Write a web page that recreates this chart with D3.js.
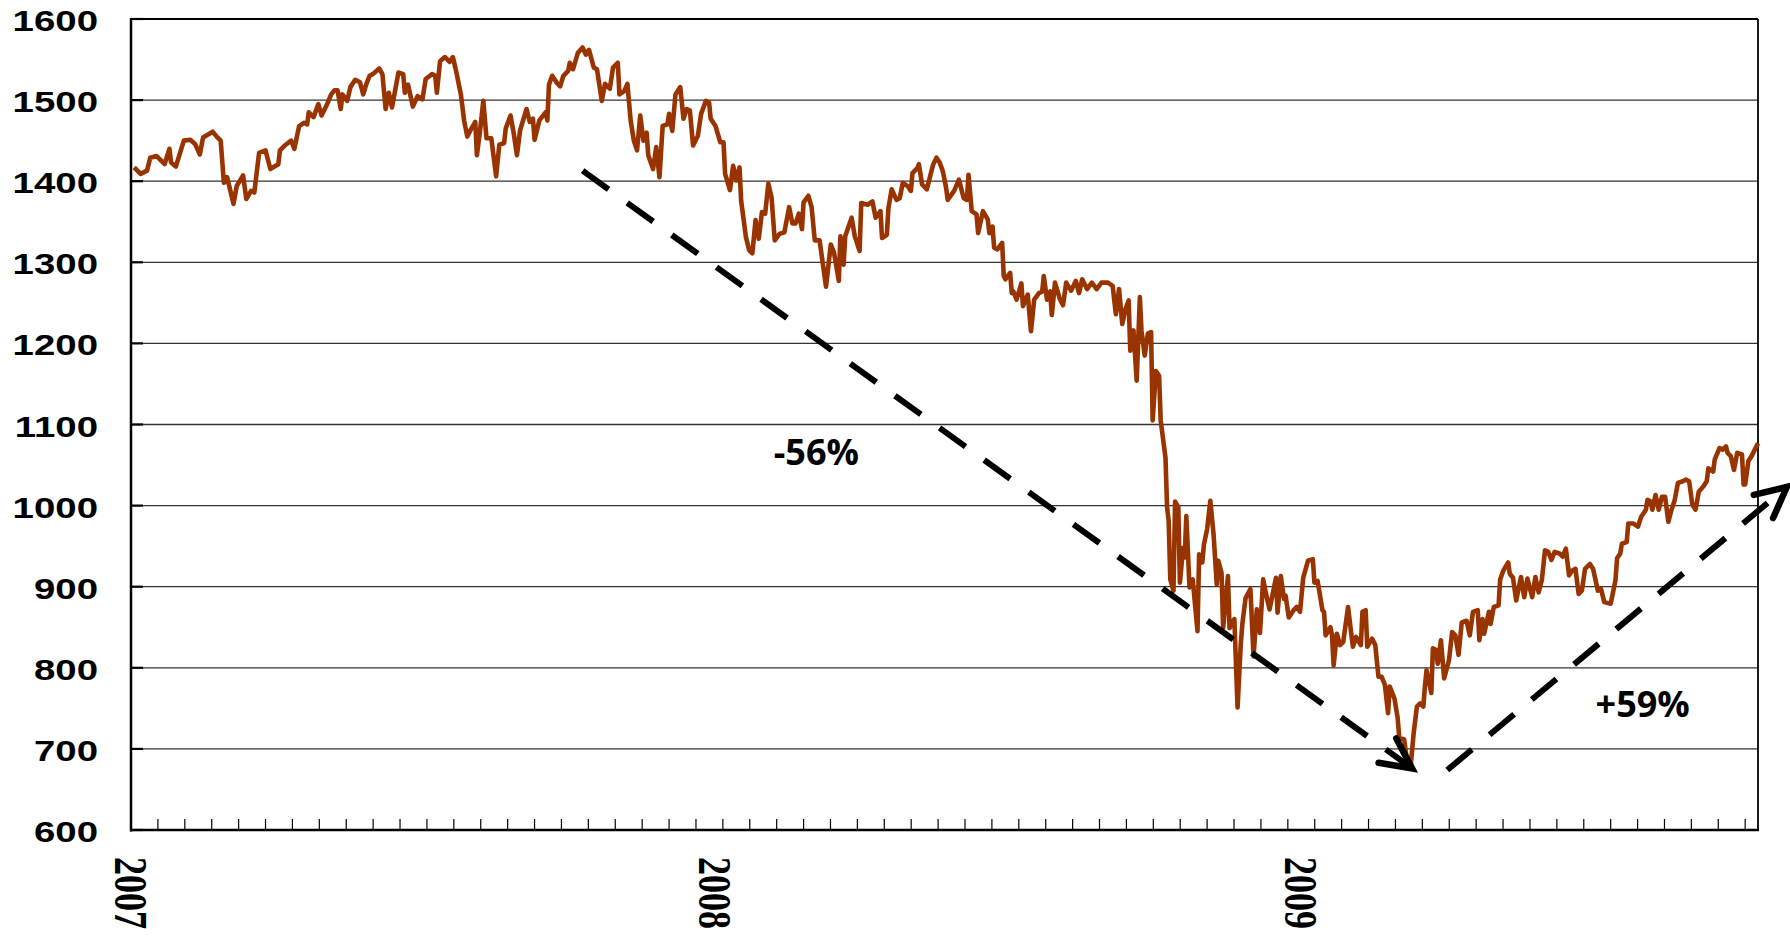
<!DOCTYPE html>
<html lang="en">
<head>
<meta charset="utf-8">
<title>S&amp;P 500, 2007 - 2009</title>
<script src="https://cdn.jsdelivr.net/npm/d3@7"></script>
<style>
  body { margin: 0; background: #fff; }
  svg { display: block; }
</style>
</head>
<body>
<script>
// closing level, as [days since 1 Jan 2007, level]
var s2007 = [
  [2,1417],[6,1409],[10,1413],[12,1429],[16,1431],[19,1425],[21,1421],[24,1440],[25,1423],[28,1418],
  [33,1450],[37,1451],[40,1446],[43,1433],[45,1454],[51,1461],[54,1454],[56,1450],[58,1398],[60,1405],
  [64,1372],[66,1394],[70,1407],[72,1378],[75,1388],[77,1386],[80,1435],[84,1438],[87,1415],[92,1421],
  [93,1438],[96,1444],[100,1450],[102,1440],[105,1468],[108,1472],[110,1470],[111,1485],[114,1479],[117,1495],
  [119,1481],[122,1493],[125,1507],[127,1512],[129,1512],[131,1489],[132,1507],[135,1499],[137,1516],[140,1525],
  [143,1522],[145,1507],[147,1520],[149,1530],[151,1532],[155,1539],[157,1532],[159,1489],[161,1509],[163,1491],
  [167,1534],[170,1532],[171,1509],[173,1519],[176,1492],[179,1505],[182,1501],[184,1526],[188,1532],[190,1530],
  [191,1509],[193,1548],[196,1553],[199,1547],[201,1553],[203,1536],[206,1507],[208,1475],[210,1455],[212,1463],
  [215,1473],[216,1432],[218,1463],[220,1499],[222,1453],[225,1453],[228,1406],[230,1445],[233,1447],[234,1465],
  [237,1481],[239,1459],[241,1432],[243,1463],[247,1489],[249,1473],[251,1477],[252,1451],[255,1475],[259,1485],
  [260,1475],[261,1519],[263,1530],[266,1521],[268,1517],[270,1530],[273,1536],[274,1546],[276,1538],[279,1558],
  [282,1565],[284,1556],[286,1562],[289,1540],[291,1538],[294,1499],[296,1520],[299,1514],[301,1540],[304,1546],
  [305,1507],[308,1511],[310,1520],[312,1475],[314,1450],[316,1438],[318,1481],[320,1450],[322,1460],[323,1432],
  [326,1415],[328,1442],[330,1405],[332,1468],[335,1470],[336,1483],[338,1462],[340,1507],[343,1516],[345,1477],
  [347,1489],[349,1487],[351,1444],[354,1456],[356,1483],[359,1499],[361,1497],[362,1477]
];
var s2008 = [
  [365,1468],[368,1448],[370,1448],[371,1409],[374,1389],[376,1419],[378,1401],[380,1417],[381,1376],[384,1331],
  [386,1315],[388,1311],[390,1352],[392,1329],[394,1362],[396,1360],[398,1397],[400,1380],[402,1327],[405,1335],
  [408,1337],[411,1368],[413,1348],[415,1348],[417,1360],[419,1341],[420,1374],[423,1382],[425,1368],[427,1327],
  [430,1327],[434,1270],[437,1322],[439,1312],[442,1277],[443,1332],[445,1297],[446,1332],[450,1355],[452,1332],
  [455,1314],[456,1373],[460,1371],[463,1375],[465,1355],[468,1363],[469,1330],[472,1334],[473,1367],[475,1390],
  [478,1377],[480,1379],[482,1398],[485,1394],[487,1388],[488,1410],[491,1416],[492,1421],[494,1396],[497,1390],
  [499,1406],[501,1421],[503,1429],[505,1423],[507,1412],[509,1392],[510,1377],[514,1388],[517,1402],[520,1379],
  [522,1377],[523,1408],[525,1363],[528,1359],[529,1336],[532,1363],[535,1353],[536,1336],[538,1344],[539,1318],
  [541,1316],[544,1324],[545,1283],[546,1279],[549,1287],[550,1262],[551,1264],[553,1254],[556,1274],[557,1246],
  [560,1260],[562,1215],[564,1254],[567,1262],[569,1264],[570,1283],[572,1254],[574,1264],[575,1235],[577,1275],
  [580,1255],[582,1247],[584,1275],[587,1265],[590,1277],[592,1262],[594,1279],[597,1267],[600,1275],[603,1267],
  [606,1275],[610,1275],[613,1271],[615,1236],[617,1267],[619,1224],[621,1242],[623,1253],[624,1191],[626,1216],
  [628,1154],[630,1257],[631,1216],[633,1185],[635,1212],[637,1214],[638,1105],[640,1166],[642,1160],[643,1105],
  [646,1059],[647,998],[648,981],[649,909],[651,895],[652,1005],[654,998],[655,905],[657,948],[658,936],
  [659,987],[661,899],[663,909],[666,845],[667,940],[669,930],[670,952],[672,971],[674,1006],[676,965],
  [678,903],[679,932],[681,917],[682,849],[685,913],[686,849],[689,860],[691,751],[693,829],[694,854],
  [696,886],[699,897],[701,814],[703,872],[705,843],[707,909],[709,889],[711,872],[715,911],[716,868],
  [718,913],[720,885],[721,889],[723,862],[726,871],[728,875],[730,869]
];
var s2009 = [
  [732,911],[735,932],[738,934],[739,905],[741,907],[744,871],[745,869],[746,840],[749,850],[750,840],
  [751,803],[753,842],[755,828],[757,832],[760,875],[763,826],[765,838],[768,828],[769,869],[771,871],
  [772,826],[775,836],[777,828],[779,789],[781,789],[783,779],[785,744],[786,777],[789,762],[791,738],
  [792,713],[795,712],[797,683],[799,677],[801,720],[803,752],[805,756],[807,752],[808,777],[809,797],
  [812,769],[813,824],[815,822],[816,805],[818,834],[820,787],[823,809],[825,844],[827,840],[829,816],
  [831,856],[834,858],[836,840],[838,869],[841,871],[842,834],[844,860],[845,842],[848,869],[849,854],
  [851,875],[854,877],[855,909],[857,920],[860,930],[861,916],[863,911],[865,883],[868,912],[870,887],
  [872,910],[875,887],[877,912],[879,893],[881,908],[883,945],[885,943],[887,933],[889,943],[892,941],
  [894,937],[896,947],[898,914],[900,920],[902,922],[904,891],[906,895],[908,922],[911,928],[913,922],
  [916,895],[918,897],[920,881],[924,879],[927,908],[928,935],[930,941],[931,953],[934,955],[935,978],
  [938,978],[941,974],[943,986],[946,995],[947,1007],[949,1005],[950,995],[952,1013],[954,995],[956,1011],
  [958,1011],[960,980],[962,995],[964,1007],[966,1028],[969,1030],[971,1032],[973,1030],[975,1001],[977,995],
  [979,1017],[982,1024],[984,1030],[985,1046],[988,1042],[989,1057],[992,1071],[994,1069],[996,1073],[997,1065],
  [999,1061],[1001,1044],[1003,1065],[1006,1063],[1007,1026],[1008,1026],[1010,1055],[1012,1061],[1014,1069],[1016,1077]
];

var years = [2007, 2008, 2009];
var yTicks = [600, 700, 800, 900, 1000, 1100, 1200, 1300, 1400, 1500, 1600];
var lastDay = 1016;        // right edge of the plot
var tickStepDays = 16.8;   // small marks along the bottom axis

// dashed arrows and their labels, in [day, level]
var arrows = [
  { from: [282, 1413], to: [800, 676] },
  { from: [822, 674], to: [1034, 1023] }
];
var notes = [
  { text: "-56%", at: [428, 1050] },
  { text: "+59%", at: [944, 739] }
];

var width = 1790,
    height = 937,
    margin = { top: 19, right: 32, bottom: 107, left: 131 };

var start = Date.UTC(2007, 0, 1);
function day(d) { return new Date(start + d * 864e5); }

var x = d3.scaleUtc()
    .domain([day(0), day(lastDay)])
    .range([margin.left, width - margin.right]);
var y = d3.scaleLinear()
    .domain([600, 1600])
    .range([height - margin.bottom, margin.top]);

var svg = d3.select("body").append("svg")
    .attr("width", width)
    .attr("height", height)
    .style("background", "#fff");

var x0 = x.range()[0], x1 = x.range()[1],
    yb = y.range()[0], yt = y.range()[1];

// horizontal grid
svg.append("g").selectAll("line")
    .data(yTicks.slice(1, -1))
  .enter().append("line")
    .attr("x1", x0).attr("x2", x1)
    .attr("y1", function(d) { return y(d); })
    .attr("y2", function(d) { return y(d); })
    .attr("stroke", "#333")
    .attr("stroke-width", 1.3);

// frame
svg.append("line").attr("x1", x0).attr("x2", x1).attr("y1", yt).attr("y2", yt)
    .attr("stroke", "#000").attr("stroke-width", 1.8);
svg.append("line").attr("x1", x1).attr("x2", x1).attr("y1", yt).attr("y2", yb)
    .attr("stroke", "#000").attr("stroke-width", 1.8);
svg.append("line").attr("x1", x0).attr("x2", x0).attr("y1", yt - 1).attr("y2", yb + 1.5)
    .attr("stroke", "#000").attr("stroke-width", 2.5);
svg.append("line").attr("x1", x0 - 1).attr("x2", x1 + 1).attr("y1", yb).attr("y2", yb)
    .attr("stroke", "#000").attr("stroke-width", 2.5);

// y tick marks (inside) and labels
svg.append("g").selectAll("line")
    .data(yTicks)
  .enter().append("line")
    .attr("x1", x0).attr("x2", x0 + 12)
    .attr("y1", function(d) { return y(d); })
    .attr("y2", function(d) { return y(d); })
    .attr("stroke", "#000")
    .attr("stroke-width", 2.2);

svg.append("g").selectAll("g")
    .data(yTicks)
  .enter().append("g")
    .attr("transform", function(d) { return "translate(" + (x0 - 33) + "," + y(d) + ") scale(1.28,1)"; })
  .append("text")
    .attr("text-anchor", "end")
    .attr("dy", "0.4em")
    .style("font-family", "'Liberation Sans', Arial, sans-serif")
    .style("font-weight", "bold")
    .style("font-size", "30px")
    .text(function(d) { return d; });

// x minor ticks
svg.append("g").selectAll("line")
    .data(d3.range(tickStepDays, lastDay, tickStepDays))
  .enter().append("line")
    .attr("x1", function(d) { return x(day(d)); })
    .attr("x2", function(d) { return x(day(d)); })
    .attr("y1", yb).attr("y2", yb - 11)
    .attr("stroke", "#000")
    .attr("stroke-width", 1.2);

// year labels, rotated
svg.append("g").selectAll("g")
    .data(years)
  .enter().append("g")
    .attr("transform", function(d) {
      return "translate(" + x(new Date(Date.UTC(d, 0, 1))) + "," + (yb + 27) + ") scale(1.28,1) rotate(90)";
    })
  .append("text")
    .attr("dy", "0.35em")
    .style("font-family", "'Liberation Serif', 'Times New Roman', serif")
    .style("font-weight", "bold")
    .style("font-size", "36px")
    .text(function(d) { return d; });

// the index line
var line = d3.line()
    .x(function(d) { return x(day(d[0])); })
    .y(function(d) { return y(d[1]); });

svg.append("path")
    .datum(s2007.concat(s2008, s2009))
    .attr("d", line)
    .attr("fill", "none")
    .attr("stroke", "#993300")
    .attr("stroke-width", 4.6)
    .attr("stroke-linejoin", "round");

// dashed arrows
function pt(p) { return [x(day(p[0])), y(p[1])]; }

arrows.forEach(function(a) {
  var p0 = pt(a.from), p1 = pt(a.to);
  svg.append("line")
      .attr("x1", p0[0]).attr("y1", p0[1])
      .attr("x2", p1[0]).attr("y2", p1[1])
      .attr("stroke", "#000")
      .attr("stroke-width", 6)
      .attr("stroke-dasharray", "32,23");

  var ang = Math.atan2(p1[1] - p0[1], p1[0] - p0[0]) + Math.PI,
      len = 34, spread = 0.46;
  var h1 = [p1[0] + len * Math.cos(ang - spread), p1[1] + len * Math.sin(ang - spread)],
      h2 = [p1[0] + len * Math.cos(ang + spread), p1[1] + len * Math.sin(ang + spread)];
  svg.append("path")
      .attr("d", "M" + h1 + "L" + p1 + "L" + h2)
      .attr("fill", "none")
      .attr("stroke", "#000")
      .attr("stroke-width", 6.5)
      .attr("stroke-linecap", "round")
      .attr("stroke-linejoin", "miter");
});

svg.append("g").selectAll("text")
    .data(notes)
  .enter().append("text")
    .attr("x", function(d) { return pt(d.at)[0]; })
    .attr("y", function(d) { return pt(d.at)[1]; })
    .attr("text-anchor", "middle")
    .style("font-family", "'Open Sans', sans-serif")
    .style("font-weight", "bold")
    .style("font-size", "36px")
    .text(function(d) { return d.text; });
</script>
</body>
</html>
